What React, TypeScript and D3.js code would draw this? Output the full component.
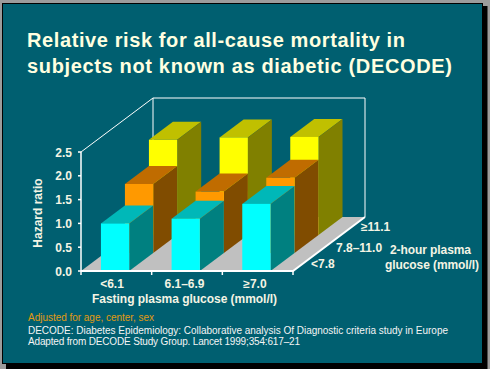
import React from "react";
import * as d3 from "d3";

const fastingLabels = ["<6.1", "6.1–6.9", "≥7.0"];
const twoHourLabels = ["<7.8", "7.8–11.0", "≥11.1"];
const yTicks = [0, 0.5, 1, 1.5, 2, 2.5];
const row78 = [1.0, 1.1, 1.41];
const row110 = [1.45, 1.29, 1.58];
const row111 = [2.0, 2.05, 2.06];
const rows = [row78, row110, row111];
const frontColors = ["#00ffff", "#ff9900", "#ffff00"];
const topColors = ["#00b8b8", "#c06c00", "#c0c000"];
const sideColors = ["#008080", "#804c00", "#808000"];

const W = 490, H = 369;
const x0 = 81, x1 = 293, y0 = 271, yTop = 152;
const dx = 24, dy = -18;
const font = "'Liberation Sans', Arial, sans-serif";
const ink = "#f4f4e4";

const xScale = d3.scaleBand<number>().domain([0, 1, 2]).range([x0, x1]).paddingInner(0.6).paddingOuter(0.3).align(0.47);
const yScale = d3.scaleLinear().domain([0, 2.5]).range([y0, yTop]);
const px = (x: number, d: number) => x + d * dx;
const py = (y: number, d: number) => y + d * dy;
const line = d3.line();
const poly = (p: [number, number][]) => line(p) + "Z";

const catCenters = [112, 184.5, 255];

export default function App() {
  const order = [2, 1, 0];
  const wx = px(x0, 3), wx2 = px(x1, 3), wy = py(y0, 3), wTop = py(yTop, 3);
  return (
    <svg width={W} height={H} style={{ position: "fixed", left: 0, top: 0, display: "block" }}>
      <rect width={W} height={H} fill="#9c9c9c" />
      <rect x={6} y={6} width={481.5} height={363} fill="#000" />
      <rect x={2.5} y={3.5} width={480} height={360} fill="#005f70" stroke="#000" />
      <path d={poly([[x0, y0], [x1, y0], [wx2, wy], [wx, wy]])} fill="#c0c0c0" />
      <path d={`M${x0},${yTop}L${wx},${wTop}L${wx2},${wTop}L${wx2},${wy}`} fill="none" stroke="#fff" strokeWidth={1} />
      <path d={`M${wx},${wTop}L${wx},${wy}`} fill="none" stroke="#fff" strokeWidth={1} />
      {order.map((r) =>
        fastingLabels.map((_, c) => {
          const v = rows[r][c];
          const l = px(xScale(c)!, r), rr = px(xScale(c)! + xScale.bandwidth(), r);
          const b = py(y0, r), t = py(yScale(v), r);
          return (
            <g key={`${r}-${c}`}>
              <path d={poly([[l, t], [rr, t], [rr + dx, t + dy], [l + dx, t + dy]])} fill={topColors[r]} />
              <path d={poly([[rr, t], [rr + dx, t + dy], [rr + dx, b + dy], [rr, b]])} fill={sideColors[r]} />
              <rect x={l} y={t} width={rr - l} height={b - t} fill={frontColors[r]} />
            </g>
          );
        })
      )}
      <path d={`M${x0},${yTop}L${x0},${y0}`} stroke="#fff" strokeWidth={1.5} fill="none" />
      <path d={`M${x0},${y0}L${x1},${y0}L${wx2},${wy}`} stroke="#fff" strokeWidth={2} fill="none" />
      {yTicks.map((t) => (
        <g key={t}>
          <line x1={x0 - 3} x2={x0} y1={yScale(t)} y2={yScale(t)} stroke="#fff" strokeWidth={1.5} />
          <text x={72} y={yScale(t) + 4.5} textAnchor="end" fill={ink} fontFamily={font} fontWeight="bold" fontSize={12}>{t.toFixed(1)}</text>
        </g>
      ))}
      {[0, 1, 2, 3].map((i) => {
        const tx = x0 + (i * (x1 - x0)) / 3;
        return <line key={i} x1={tx} x2={tx} y1={y0} y2={y0 + 4} stroke="#fff" strokeWidth={1.5} />;
      })}
      {fastingLabels.map((s, c) => (
        <text key={s} x={catCenters[c]} y={288} textAnchor="middle" fill={ink} fontFamily={font} fontWeight="bold" fontSize={12}>{s}</text>
      ))}
      {twoHourLabels.map((s, r) => (
        <text key={s} x={[311, 336, 361][r]} y={[268, 252, 231][r]} textAnchor="start" fill={ink} fontFamily={font} fontWeight="bold" fontSize={12}>{s}</text>
      ))}
      <text x={92} y={303} fill={ink} fontFamily={font} fontWeight="bold" fontSize={12} textLength={185}>Fasting plasma glucose (mmol/l)</text>
      <text x={390} y={254} fill={ink} fontFamily={font} fontWeight="bold" fontSize={12} textLength={81}>2-hour plasma</text>
      <text x={385} y={268.5} fill={ink} fontFamily={font} fontWeight="bold" fontSize={12} textLength={94}>glucose (mmol/l)</text>
      <text transform="translate(42,213) rotate(-90)" textAnchor="middle" fill={ink} fontFamily={font} fontWeight="bold" fontSize={12}>Hazard ratio</text>
      <text x={27} y={46.5} fill="#ffffe0" fontFamily={font} fontWeight="bold" fontSize={20} textLength={378}>Relative risk for all-cause mortality in</text>
      <text x={27} y={72.5} fill="#ffffe0" fontFamily={font} fontWeight="bold" fontSize={20} textLength={425}>subjects not known as diabetic (DECODE)</text>
      <text x={28} y={321} fill="#e09a10" fontFamily={font} fontSize={10} textLength={126}>Adjusted for age, center, sex</text>
      <text x={28} y={334} fill="#f4f4f4" fontFamily={font} fontSize={10} textLength={420}>DECODE: Diabetes Epidemiology: Collaborative analysis Of Diagnostic criteria study in Europe</text>
      <text x={28} y={345} fill="#f4f4f4" fontFamily={font} fontSize={10} textLength={272}>Adapted from DECODE Study Group. Lancet 1999;354:617–21</text>
    </svg>
  );
}
